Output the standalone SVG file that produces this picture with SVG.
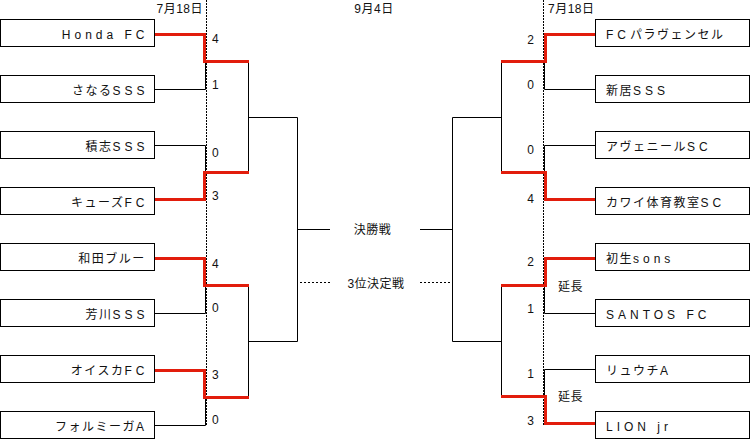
<svg xmlns="http://www.w3.org/2000/svg" width="750" height="440" viewBox="0 0 750 440">
<style>
text{font-family:"Liberation Sans","Noto Sans CJK JP",sans-serif;font-size:12px;fill:#111;letter-spacing:0.5px}
.nm{letter-spacing:1.5px}
.lt{letter-spacing:4px}
.l{text-anchor:end}
.m{text-anchor:middle}
.box{fill:#fff;stroke:#000;stroke-width:1}
.bk{fill:none;stroke:#000;stroke-width:1}
.rd{fill:none;stroke:#e21d0c;stroke-width:3}
.dt{fill:none;stroke:#000;stroke-width:1;stroke-dasharray:2,2}
.dv{fill:none;stroke:#000;stroke-width:1;stroke-dasharray:2,1}
</style>
<rect width="750" height="440" fill="#fff"/>
<g id="labels">
<text class="l" x="203" y="12.5">7月18日</text>
<text x="548" y="12.5">7月18日</text>
<text class="m" x="374" y="12.5">9月4日</text>
<text class="m" x="372.5" y="233.5">決勝戦</text>
<text class="m" x="376" y="287.5">3位決定戦</text>
<text x="558" y="291">延長</text>
<text x="558" y="401">延長</text>
</g>
<g id="connectors">
<path class="dv" d="M206.5,0V426M543.5,0V426"/>
<path class="dt" d="M300,282.5H330M420,282.5H450"/>
<path class="bk" d="M155,89.5H205.5V61.5M155,145.5H205.5V172.5M155,313.5H205.5V285.5M155,425.5H205.5V397.5"/>
<path class="bk" d="M248.5,61.5V172.5M248.5,117.5H297.5M248.5,285.5V397.5M248.5,341.5H297.5M297.5,117.5V341.5M297.5,229.5H330"/>
<path class="bk" d="M595,89.5H544.5V61.5M595,145.5H544.5V172.5M595,313.5H544.5V285.5M595,369.5H544.5V396.5"/>
<path class="bk" d="M501.5,61.5V172.5M501.5,117.5H452.5M501.5,285.5V396.5M501.5,341.5H452.5M452.5,117.5V341.5M452.5,229.5H420"/>
<path class="rd" d="M155,34.5H204.5V61.5H249"/>
<path class="rd" d="M155,199.5H204.5V172.5H249"/>
<path class="rd" d="M155,258.5H204.5V285.5H249"/>
<path class="rd" d="M155,370.5H204.5V397.5H249"/>
<path class="rd" d="M595,34.5H545.5V61.5H501"/>
<path class="rd" d="M595,199.5H545.5V172.5H501"/>
<path class="rd" d="M595,258.5H545.5V285.5H501"/>
<path class="rd" d="M595,423.5H545.5V396.5H501"/>
</g>
<g id="scores">
<text x="212" y="43">4</text>
<text x="212" y="89">1</text>
<text x="212" y="156.5">0</text>
<text x="212" y="200">3</text>
<text x="212" y="268">4</text>
<text x="212" y="312">0</text>
<text x="212" y="378.5">3</text>
<text x="212" y="424">0</text>
<text class="l" x="534.5" y="44">2</text>
<text class="l" x="534.5" y="89">0</text>
<text class="l" x="534.5" y="154">0</text>
<text class="l" x="534.5" y="203">4</text>
<text class="l" x="534.5" y="266">2</text>
<text class="l" x="534.5" y="313">1</text>
<text class="l" x="534.5" y="378">1</text>
<text class="l" x="534.5" y="424.5">3</text>
</g>
<g id="team-honda"><rect class="box" x="0.5" y="19.5" width="154" height="27"/><text class="nm l" x="148.5" y="38.5"><tspan class="lt">Honda FC</tspan></text></g>
<g id="team-sanaru"><rect class="box" x="0.5" y="75.5" width="154" height="27"/><text class="nm l" x="148.5" y="94.5">さなる<tspan class="lt">SSS</tspan></text></g>
<g id="team-sekishi"><rect class="box" x="0.5" y="131.5" width="154" height="27"/><text class="nm l" x="148.5" y="150.5">積志<tspan class="lt">SSS</tspan></text></g>
<g id="team-kyuzu"><rect class="box" x="0.5" y="187.5" width="154" height="27"/><text class="nm l" x="148.5" y="206.5">キューズ<tspan class="lt">FC</tspan></text></g>
<g id="team-wada"><rect class="box" x="0.5" y="243.5" width="154" height="27"/><text class="nm l" x="145.8" y="262.5">和田ブルー</text></g>
<g id="team-hagawa"><rect class="box" x="0.5" y="299.5" width="154" height="27"/><text class="nm l" x="148.5" y="318.5">芳川<tspan class="lt">SSS</tspan></text></g>
<g id="team-oisuka"><rect class="box" x="0.5" y="355.5" width="154" height="27"/><text class="nm l" x="148.5" y="374.5">オイスカ<tspan class="lt">FC</tspan></text></g>
<g id="team-formiga"><rect class="box" x="0.5" y="411.5" width="154" height="27"/><text class="nm l" x="148" y="430.5">フォルミーガ<tspan class="lt">A</tspan></text></g>
<g id="team-fcpara"><rect class="box" x="595.5" y="19.5" width="154" height="27"/><text class="nm" x="606" y="38.5"><tspan class="lt">FC</tspan>パラヴェンセル</text></g>
<g id="team-arai"><rect class="box" x="595.5" y="75.5" width="154" height="27"/><text class="nm" x="606" y="94.5">新居<tspan class="lt">SSS</tspan></text></g>
<g id="team-avenir"><rect class="box" x="595.5" y="131.5" width="154" height="27"/><text class="nm" x="606" y="150.5">アヴェニール<tspan class="lt">SC</tspan></text></g>
<g id="team-kawai"><rect class="box" x="595.5" y="187.5" width="154" height="27"/><text class="nm" x="606" y="206.5">カワイ体育教室<tspan class="lt">SC</tspan></text></g>
<g id="team-hatsuoi"><rect class="box" x="595.5" y="243.5" width="154" height="27"/><text class="nm" x="606" y="262.5">初生<tspan class="lt">sons</tspan></text></g>
<g id="team-santos"><rect class="box" x="595.5" y="299.5" width="154" height="27"/><text class="nm" x="606" y="318.5"><tspan class="lt">SANTOS FC</tspan></text></g>
<g id="team-ryuchi"><rect class="box" x="595.5" y="355.5" width="154" height="27"/><text class="nm" x="606" y="374.5">リュウチ<tspan class="lt">A</tspan></text></g>
<g id="team-lion"><rect class="box" x="595.5" y="411.5" width="154" height="27"/><text class="nm" x="606" y="430.5"><tspan class="lt">LION jr</tspan></text></g>
</svg>
